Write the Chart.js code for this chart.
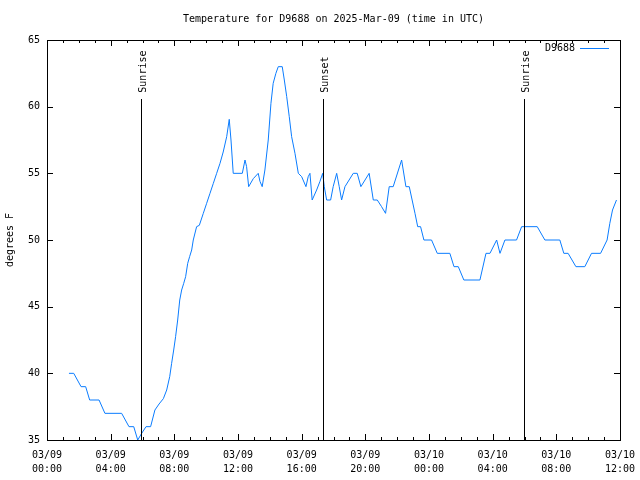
<!DOCTYPE html>
<html>
<head>
<meta charset="utf-8">
<script src="https://cdn.jsdelivr.net/npm/chart.js@4/dist/chart.umd.min.js"></script>
<style>
  body { margin: 0; background: #fff; }
  canvas { display: block; }
</style>
</head>
<body>
<canvas id="tempChart" width="640" height="480"></canvas>
<script>
// hours since 03/09 00:00 UTC, and temperature in F
const hours = [
  1.38, 1.68, 2.14, 2.43, 2.68, 3.27, 3.64, 4.69, 5.15, 5.45, 5.70, 5.95, 6.22, 6.51,
  6.78, 7.04, 7.31, 7.52, 7.71, 7.83, 7.96, 8.08, 8.21, 8.34, 8.46, 8.59, 8.71, 8.84,
  8.96, 9.09, 9.19, 9.40, 9.57, 9.82, 10.03, 10.24, 10.45, 10.66, 10.87, 11.07, 11.29,
  11.45, 11.56, 11.70, 12.27, 12.44, 12.54, 12.67, 12.96, 13.27, 13.38, 13.52, 13.69,
  13.90, 14.07, 14.21, 14.38, 14.53, 14.78, 14.91, 15.06, 15.22, 15.37, 15.58, 15.79,
  16.00, 16.27, 16.41, 16.52, 16.66, 16.94, 17.15, 17.32, 17.42, 17.57, 17.82, 17.98,
  18.20, 18.36, 18.51, 18.72, 19.24, 19.49, 19.72, 20.24, 20.50, 20.75, 21.02, 21.27,
  21.50, 21.75, 22.28, 22.55, 22.76, 23.12, 23.29, 23.47, 23.68, 24.16, 24.52, 25.31,
  25.57, 25.84, 26.19, 27.20, 27.58, 27.83, 28.25, 28.46, 28.77, 29.50, 29.82, 30.80,
  31.28, 32.22, 32.47, 32.74, 33.23, 33.79, 34.21, 34.78, 35.19, 35.36, 35.53, 35.78
];
const tempsF = [
  40, 40, 39, 39, 38, 38, 37, 37, 36, 36, 35, 35.5, 36, 36,
  37.25, 37.7, 38.1, 38.75, 39.75, 40.75, 41.75, 42.75, 44, 45.5, 46.25, 46.75, 47.25, 48.25,
  48.75, 49.25, 50, 51, 51.1, 52, 52.75, 53.5, 54.25, 55, 55.75, 56.6, 57.75,
  59.05, 57.5, 55, 55, 56, 55.5, 54, 54.6, 55, 54.4, 54, 55.25,
  57.5, 60.25, 61.75, 62.5, 63, 63, 62, 60.75, 59.25, 57.75, 56.5, 55,
  54.75, 54, 54.75, 55, 53, 53.75, 54.4, 55, 54, 53, 53, 54,
  55, 54, 53, 54, 55, 55, 54, 55, 53, 53, 52.5, 52,
  54, 54, 56, 54, 54, 52, 51, 51, 50, 50, 49, 49,
  48, 48, 47, 47, 49, 49, 50, 49, 50, 50, 51, 51,
  50, 50, 49, 49, 48, 48, 49, 49, 50, 51.25, 52.25, 53
];

const eventHours = [5.93, 17.36, 29.98];
const eventLabels = ['Sunrise', 'Sunset', 'Sunrise'];
const eventLineTop = 60.6;

const xTickHours = [0, 4, 8, 12, 16, 20, 24, 28, 32, 36];
const xTickDates = ['03/09', '03/09', '03/09', '03/09', '03/09', '03/09', '03/10', '03/10', '03/10', '03/10'];
const xTickTimes = ['00:00', '04:00', '08:00', '12:00', '16:00', '20:00', '00:00', '04:00', '08:00', '12:00'];
const yTicks = [35, 40, 45, 50, 55, 60, 65];

const FONT = '10px "DejaVu Sans Mono", monospace';
const LINE_COLOR = '#0a7cff';

const framePlugin = {
  id: 'frame',
  afterDraw(chart) {
    const { ctx, chartArea: a, scales } = chart;
    const xs = scales.x;
    const ys = scales.y;
    ctx.save();
    ctx.strokeStyle = '#000';
    ctx.lineWidth = 1;
    ctx.strokeRect(Math.round(a.left) + 0.5, Math.round(a.top) + 0.5,
      Math.round(a.right - a.left), Math.round(a.bottom - a.top));

    ctx.beginPath();
    for (let h = 0; h <= 36; h++) {
      const px = Math.round(xs.getPixelForValue(h)) + 0.5;
      const len = h % 4 === 0 ? 6 : 3;
      ctx.moveTo(px, a.bottom); ctx.lineTo(px, a.bottom - len);
      ctx.moveTo(px, a.top); ctx.lineTo(px, a.top + len);
    }
    yTicks.forEach((v) => {
      const py = Math.round(ys.getPixelForValue(v)) + 0.5;
      ctx.moveTo(a.left, py); ctx.lineTo(a.left + 6, py);
      ctx.moveTo(a.right, py); ctx.lineTo(a.right - 6, py);
    });
    // sunrise / sunset lines
    eventHours.forEach((h) => {
      const px = Math.round(xs.getPixelForValue(h)) + 0.5;
      ctx.moveTo(px, ys.getPixelForValue(35));
      ctx.lineTo(px, Math.round(ys.getPixelForValue(eventLineTop)));
    });
    ctx.stroke();

    ctx.fillStyle = '#000';
    ctx.font = FONT;
    // title
    ctx.textAlign = 'center';
    ctx.textBaseline = 'middle';
    ctx.fillText('Temperature for D9688 on 2025-Mar-09 (time in UTC)', (a.left + a.right) / 2, 19);

    // y axis title
    ctx.save();
    ctx.translate(10, (a.top + a.bottom) / 2);
    ctx.rotate(-Math.PI / 2);
    ctx.fillText('degrees F', 0, 0);
    ctx.restore();

    // event labels
    eventHours.forEach((h, i) => {
      const px = Math.round(xs.getPixelForValue(h));
      ctx.save();
      ctx.translate(px + 2, ys.getPixelForValue(eventLineTop) - 6);
      ctx.rotate(-Math.PI / 2);
      ctx.textAlign = 'left';
      ctx.fillText(eventLabels[i], 0, 0);
      ctx.restore();
    });

    // legend
    ctx.textAlign = 'right';
    ctx.fillText(chart.data.datasets[0].label, 575, 48);
    ctx.strokeStyle = LINE_COLOR;
    ctx.beginPath();
    ctx.moveTo(580, 48.5); ctx.lineTo(609, 48.5);
    ctx.stroke();
    ctx.restore();
  },
};

new Chart(document.getElementById('tempChart').getContext('2d'), {
  type: 'scatter',
  data: {
    datasets: [
      {
        label: 'D9688',
        data: hours.map((h, i) => ({ x: h, y: tempsF[i] })),
        borderColor: LINE_COLOR,
        borderWidth: 1,
        pointRadius: 0,
        showLine: true,
        tension: 0,
      },
    ],
  },
  options: {
    responsive: false,
    animation: false,
    layout: { padding: { top: 40, right: 20, left: 0, bottom: 0 } },
    plugins: { legend: { display: false }, tooltip: { enabled: false } },
    scales: {
      x: {
        type: 'linear',
        min: 0,
        max: 36,
        afterBuildTicks: (s) => { s.ticks = xTickHours.map((v) => ({ value: v })); },
        afterFit: (s) => { s.height = 40; s.paddingLeft = 0; s.paddingRight = 0; },
        grid: { display: false, drawTicks: false },
        border: { display: false },
        ticks: {
          autoSkip: false,
          maxRotation: 0,
          padding: 8,
          color: '#000',
          font: { family: '"DejaVu Sans Mono", monospace', size: 10, lineHeight: 1.4 },
          callback: (v) => {
            const i = xTickHours.indexOf(v);
            return i >= 0 ? [xTickDates[i], xTickTimes[i]] : '';
          },
        },
      },
      y: {
        min: 35,
        max: 65,
        afterBuildTicks: (s) => { s.ticks = yTicks.map((v) => ({ value: v })); },
        afterFit: (s) => { s.width = 47; },
        grid: { display: false, drawTicks: false },
        border: { display: false },
        ticks: {
          padding: 7,
          color: '#000',
          font: { family: '"DejaVu Sans Mono", monospace', size: 10 },
        },
      },
    },
  },
  plugins: [framePlugin],
});
</script>
</body>
</html>
